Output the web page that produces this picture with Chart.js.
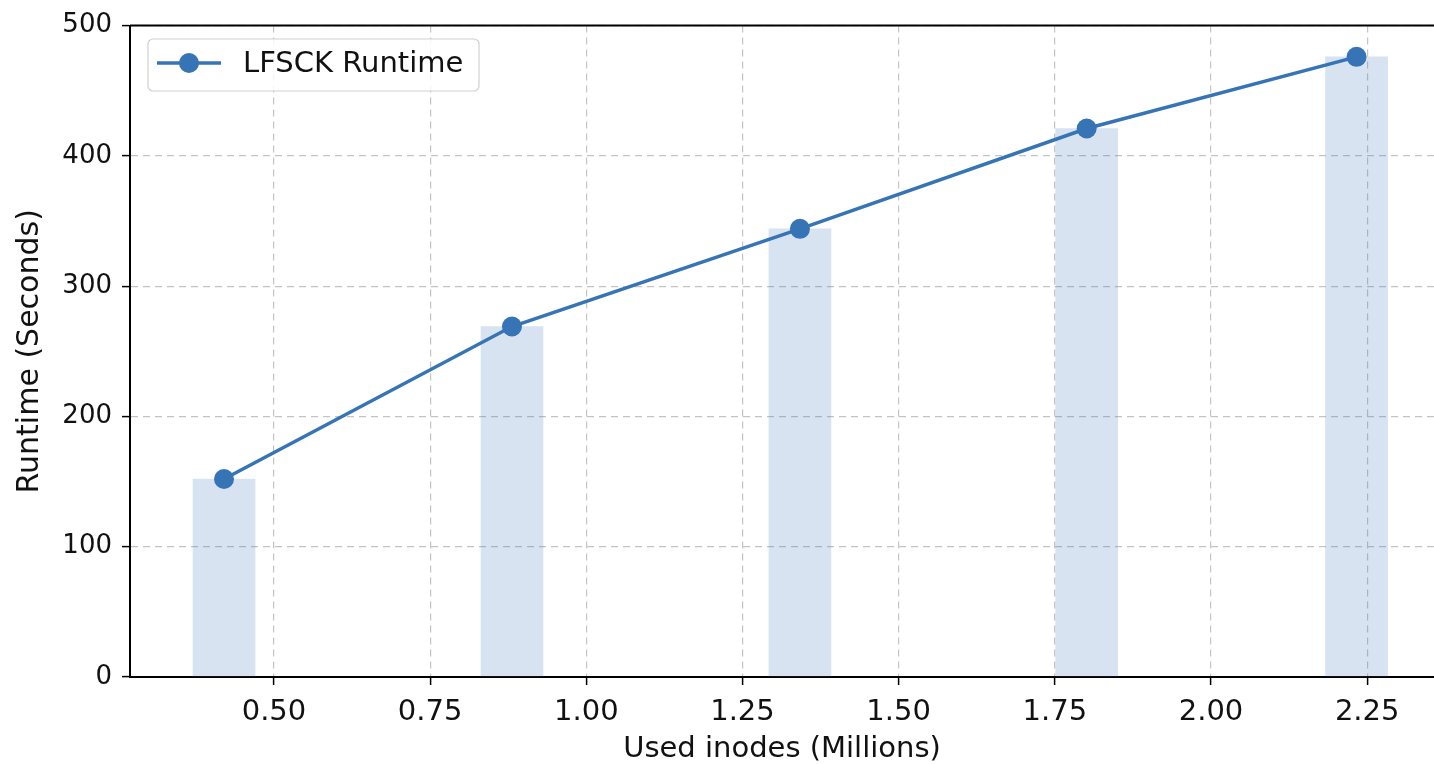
<!DOCTYPE html>
<html>
<head>
    <title>LFSCK Runtime</title>
    <script src="https://cdn.jsdelivr.net/npm/chart.js"></script>
    <style>
        html, body { margin: 0; padding: 0; background: #fff; }
        #wrap { width: 1434px; height: 764px; }
    </style>
</head>
<body>
<div id="wrap"><canvas id="chart"></canvas></div>
<script>
    // used inodes in millions, runtime in seconds
    const inodes = [0.42, 0.881, 1.342, 1.801, 2.233];
    const runtime = [152, 269, 344, 421, 476];
    const xTicks = [0.5, 0.75, 1.0, 1.25, 1.5, 1.75, 2.0, 2.25];
    const yTicks = [0, 100, 200, 300, 400, 500];

    const blue = '#3674b5';
    const font = 'DejaVu Sans';

    // matplotlib-ish legend box plus top spine
    const extras = {
        id: 'extras',
        afterDraw(chart) {
            const ctx = chart.ctx;
            const a = chart.chartArea;
            ctx.save();
            ctx.strokeStyle = '#000';
            ctx.lineWidth = 2;
            ctx.beginPath();
            ctx.moveTo(a.left, a.top);
            ctx.lineTo(a.right, a.top);
            ctx.stroke();

            // legend
            const x = 148, y = 39, w = 331, h = 52;
            ctx.fillStyle = 'rgba(255,255,255,0.85)';
            ctx.strokeStyle = '#d0d0d0';
            ctx.lineWidth = 1.2;
            ctx.beginPath();
            ctx.roundRect(x, y, w, h, 5);
            ctx.fill();
            ctx.stroke();
            ctx.strokeStyle = blue;
            ctx.lineWidth = 3.5;
            ctx.beginPath();
            ctx.moveTo(157, 63);
            ctx.lineTo(221, 63);
            ctx.stroke();
            ctx.fillStyle = blue;
            ctx.beginPath();
            ctx.arc(189, 63, 10, 0, Math.PI * 2);
            ctx.fill();
            ctx.fillStyle = '#111';
            ctx.font = '29px "' + font + '"';
            ctx.textBaseline = 'middle';
            ctx.fillText('LFSCK Runtime', 243, 64);
            ctx.restore();
        }
    };

    new Chart(document.getElementById('chart'), {
        data: {
            datasets: [{
                type: 'line',
                label: 'LFSCK Runtime',
                data: inodes.map((x, i) => ({ x: x, y: runtime[i] })),
                borderColor: blue,
                backgroundColor: blue,
                borderWidth: 3.5,
                pointRadius: 10,
                pointHoverRadius: 10,
                pointBorderWidth: 0,
                order: 0
            }, {
                type: 'bar',
                label: 'bars',
                data: inodes.map((x, i) => ({ x: x, y: runtime[i] })),
                backgroundColor: 'rgba(54,116,181,0.2)',
                borderWidth: 0,
                barThickness: 62,
                order: 1
            }]
        },
        options: {
            responsive: true,
            maintainAspectRatio: false,
            animation: false,
            layout: { autoPadding: false, padding: { top: 23, right: 0, left: 0, bottom: 0 } },
            plugins: {
                legend: { display: false },
                tooltip: { enabled: false }
            },
            scales: {
                x: {
                    type: 'linear',
                    offset: false,
                    min: 0.2695,
                    max: 2.357,
                    afterBuildTicks: s => { s.ticks = xTicks.map(v => ({ value: v })); },
                    afterFit: s => { s.height = 87; },
                    ticks: {
                        color: '#111',
                        font: { family: font, size: 29 },
                        padding: 10,
                        maxRotation: 0,
                        callback: v => v.toFixed(2)
                    },
                    grid: {
                        offset: false,
                        color: '#c4c4c4',
                        lineWidth: 1.2,
                        tickColor: '#000',
                        tickWidth: 1.5,
                        tickLength: 8
                    },
                    border: { color: '#000', width: 2, dash: [7, 5] },
                    title: {
                        display: true,
                        text: 'Used inodes (Millions)',
                        color: '#111',
                        font: { family: font, size: 29 },
                        padding: { top: 0, bottom: -3 }
                    }
                },
                y: {
                    min: 0,
                    max: 500,
                    afterBuildTicks: s => { s.ticks = yTicks.map(v => ({ value: v })); },
                    afterFit: s => { s.width = 130; },
                    ticks: {
                        color: '#111',
                        font: { family: font, size: 26 },
                        padding: 10
                    },
                    grid: {
                        color: '#c4c4c4',
                        lineWidth: 1.2,
                        tickColor: '#000',
                        tickWidth: 1.5,
                        tickLength: 8
                    },
                    border: { color: '#000', width: 2, dash: [7, 5] },
                    title: {
                        display: true,
                        text: 'Runtime (Seconds)',
                        color: '#111',
                        font: { family: font, size: 30 },
                        padding: { top: 12, bottom: 0 }
                    }
                }
            }
        },
        plugins: [extras]
    });
</script>
</body>
</html>
